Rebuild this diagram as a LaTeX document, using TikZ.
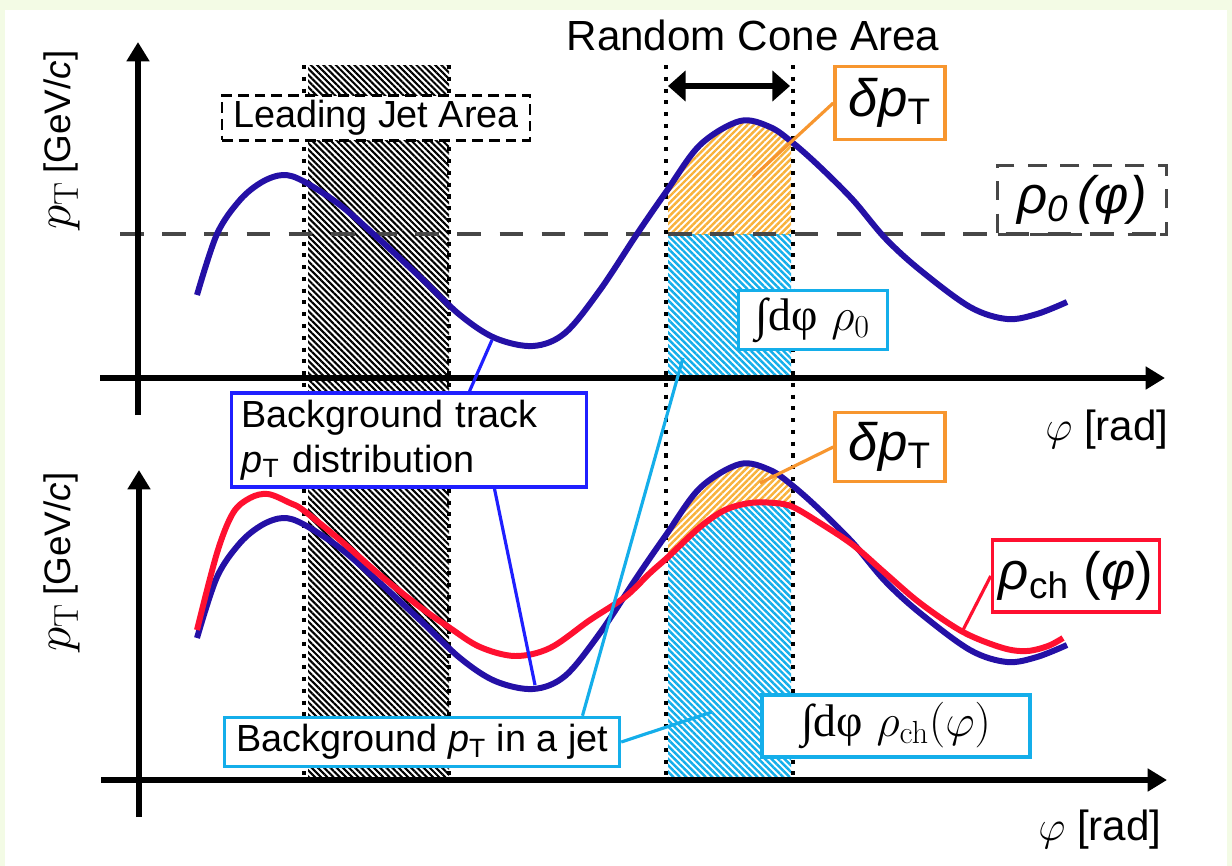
\RequirePackage{fix-cm}
\documentclass[tikz,border=0pt]{standalone}
\usepackage{amsmath}
\usepackage[no-math]{fontspec}
\setmainfont{Liberation Sans}
\newfontfamily\grserif{Liberation Serif}
\usetikzlibrary{arrows.meta,patterns.meta}
\definecolor{bgpale}{HTML}{F3FBE5}
\definecolor{curveblue}{HTML}{2410A6}
\definecolor{boxblue}{HTML}{1F1FFF}
\definecolor{skyline}{HTML}{14AEEA}
\definecolor{conefill}{HTML}{F8B23C}
\definecolor{orangeline}{HTML}{F7962F}
\definecolor{chred}{HTML}{FF1030}
\definecolor{dashgray}{HTML}{474747}
\newcommand{\bluecurve}{plot[smooth,tension=0.55] coordinates {(197,295) (217,234) (240,200) (262,182) (283,175) (303,181) (340,205) (380,240) (420,277) (460,315) (495,338) (533,346) (565,333) (600,290) (637,234) (666,192) (700,145) (740,121) (770,127) (793,143) (820,167) (853,200) (885,238) (920,270) (970,307) (1007,319) (1037,314) (1067,302)}}
\newcommand{\redcurve}{plot[smooth,tension=0.55] coordinates {(197,630) (217,553) (233,513) (250,498) (268,494) (290,503) (303,510) (340,540) (380,575) (420,607) (450,628) (480,647) (515,656) (550,648) (590,620) (625,597) (650,573) (668,557) (700,527) (725,510) (750,503) (775,503) (793,507) (820,523) (853,545) (885,573) (920,603) (963,632) (1003,648) (1027,651) (1048,646) (1063,638)}}
\newcommand{\ptsf}{\textit{p}$_{\text{T}}$}
\newcommand{\intdphi}{{\grserif ∫dφ}\hspace{0.3em}}
\begin{document}
\begin{tikzpicture}[x=0.02cm,y=-0.02cm,
  axis/.style={line width=3.1pt,-{Triangle[length=11pt,width=12.5pt]}},
  span/.style={line width=3.1pt,{Triangle[length=10pt,width=17pt]}-{Triangle[length=10pt,width=17pt]}},
  curveb/.style={curveblue,line width=3.4pt},
  curver/.style={chred,line width=3.4pt},
  dotline/.style={line width=2.3pt,dash pattern=on 2.3pt off 4.4pt},
  jethatch/.style={pattern={Lines[angle=-45,distance=2.5pt,line width=1.2pt]},pattern color=black},
  orangehatch/.style={pattern={Lines[angle=45,distance=2.6pt,line width=1.4pt]},pattern color=conefill},
  bluehatch/.style={pattern={Lines[angle=-45,distance=2.6pt,line width=1.4pt]},pattern color=skyline},
  tagbox/.style={draw,line width=2pt,fill=white,inner sep=0pt},
  leader/.style={line width=1.8pt},
  lbl/.style={font=\fontsize{24}{28}\selectfont}]
\useasboundingbox (0,0) rectangle (1232,866);
\fill[bgpale] (0,0) rectangle (1232,866);
\fill[white] (5,10) rectangle (1227,866);

% hatched areas
\fill[jethatch] (308,65) rectangle (449,780);
\begin{scope}
\clip \bluecurve -- (1067,400) -- (197,400) -- cycle;
\fill[orangehatch] (668,100) rectangle (791,234);
\end{scope}
\fill[bluehatch] (668,234) rectangle (791,378);
\begin{scope}
\clip[shift={(0,343)}] \bluecurve -- (1067,420) -- (197,420) -- cycle;
\clip \redcurve -- (1062,430) -- (197,430) -- cycle;
\fill[orangehatch] (668,440) rectangle (791,600);
\end{scope}
\begin{scope}
\clip \redcurve -- (1062,780) -- (197,780) -- cycle;
\fill[bluehatch] (668,440) rectangle (791,780);
\end{scope}

\foreach \xx in {304,449,666,793}
  \draw[dotline] (\xx,65) -- (\xx,780);
\draw[dashgray,line width=2.3pt,dash pattern=on 13.5pt off 10.5pt] (120,234) -- (1170,234);

% curves
\draw[curveb] \bluecurve;
\draw[curveb,shift={(0,343)}] \bluecurve;
\draw[curver] \redcurve;

% axes
\coordinate (xa0) at (100,378);
\coordinate (xa1) at (1165,378);
\coordinate (ya0) at (138,415);
\coordinate (ya1) at (138,42);
\coordinate (xb0) at (101,780);
\coordinate (xb1) at (1167,780);
\coordinate (yb0) at (139,817);
\coordinate (yb1) at (139,470);
\draw[axis] (xa0) -- (xa1);
\draw[axis] (ya0) -- (ya1);
\draw[axis] (xb0) -- (xb1);
\draw[axis] (yb0) -- (yb1);
\node[rotate=90] (ylaba) at (62,140) {{\fontsize{28}{30}\selectfont$p_{\mathrm{T}}$}\hspace{0.45em}{\fontsize{21}{25}\selectfont[GeV/\textit{c}]}};
\node[rotate=90] (ylabb) at (62,562) {{\fontsize{28}{30}\selectfont$p_{\mathrm{T}}$}\hspace{0.45em}{\fontsize{21}{25}\selectfont[GeV/\textit{c}]}};
\node[lbl] (xlaba) at (1107,430) {$\varphi$ [rad]};
\node[lbl] (xlabb) at (1100,830) {$\varphi$ [rad]};

% random cone
\node[lbl] (rca) at (753,35) {Random Cone Area};
\coordinate (rcl) at (668,86);
\coordinate (rcr) at (790,86);
\draw[span] (rcl) -- (rcr);

% labels
\node[draw,dash pattern=on 6pt off 3.5pt,line width=1.2pt,fill=white,inner sep=0pt,
  minimum width=6.16cm,minimum height=0.9cm,font=\fontsize{21.5}{25}\selectfont] (lja) at (376,118) {Leading Jet Area};
\node[draw=dashgray,dash pattern=on 11pt off 7.5pt,line width=2.2pt,inner sep=0pt,
  minimum width=3.38cm,minimum height=1.38cm,font=\fontsize{30}{34}\selectfont] (rho0) at (1082,200) {\textit{ρ}$_{\textit{0}}$\,\textit{(φ)}};
\node[tagbox,draw=orangeline,minimum width=2.2cm,minimum height=1.46cm,font=\fontsize{30}{34}\selectfont] (dpta) at (890,103) {\textit{δp}$_{\text{T}}$};
\node[tagbox,draw=orangeline,minimum width=2.2cm,minimum height=1.38cm,font=\fontsize{30}{34}\selectfont] (dptb) at (890,447) {\textit{δp}$_{\text{T}}$};
\node[tagbox,draw=skyline,minimum width=2.98cm,minimum height=1.18cm,font=\fontsize{26}{30}\selectfont] (int0) at (813,320) {\intdphi$\rho_0$};
\node[tagbox,draw=skyline,minimum width=5.36cm,minimum height=1.24cm,font=\fontsize{26}{30}\selectfont] (intch) at (896,726) {\intdphi$\rho_{\mathrm{ch}}(\varphi)$};
\node[tagbox,draw=chred,minimum width=3.34cm,minimum height=1.44cm,font=\fontsize{30}{34}\selectfont] (rhoch) at (1076,576) {\textit{ρ}$_{\text{ch}}$ (\textit{φ})};
\node[tagbox,draw=boxblue,inner xsep=0.2cm,text width=6.7cm,align=left,minimum height=1.88cm,
  font=\fontsize{21.5}{25.5}\selectfont] (bgtrack) at (409,440) {Background track\\\ptsf{} distribution};
\node[tagbox,draw=skyline,minimum width=7.9cm,minimum height=0.98cm,font=\fontsize{21.5}{25}\selectfont] (bgjet) at (422,742) {Background \ptsf{} in a jet};

% leader lines
\coordinate (dtip1) at (753,177);
\coordinate (dtip2) at (760,483);
\coordinate (btip1) at (492,340);
\coordinate (btip2) at (535,685);
\coordinate (ctip1) at (683,358);
\coordinate (ctip2) at (712,712);
\coordinate (rtip) at (963,630);
\draw[leader,orangeline] (dpta.west) -- (dtip1);
\draw[leader,orangeline] (dptb.west) -- (dtip2);
\draw[leader,boxblue] ([xshift=1.21cm]bgtrack.north) -- (btip1);
\draw[leader,boxblue] ([xshift=1.71cm]bgtrack.south) -- (btip2);
\draw[leader,skyline] ([xshift=3.21cm]bgjet.north) -- (ctip1);
\draw[leader,skyline] (bgjet.east) -- (ctip2);
\draw[leader,chred] (rhoch.west) -- (rtip);
\end{tikzpicture}
\end{document}
